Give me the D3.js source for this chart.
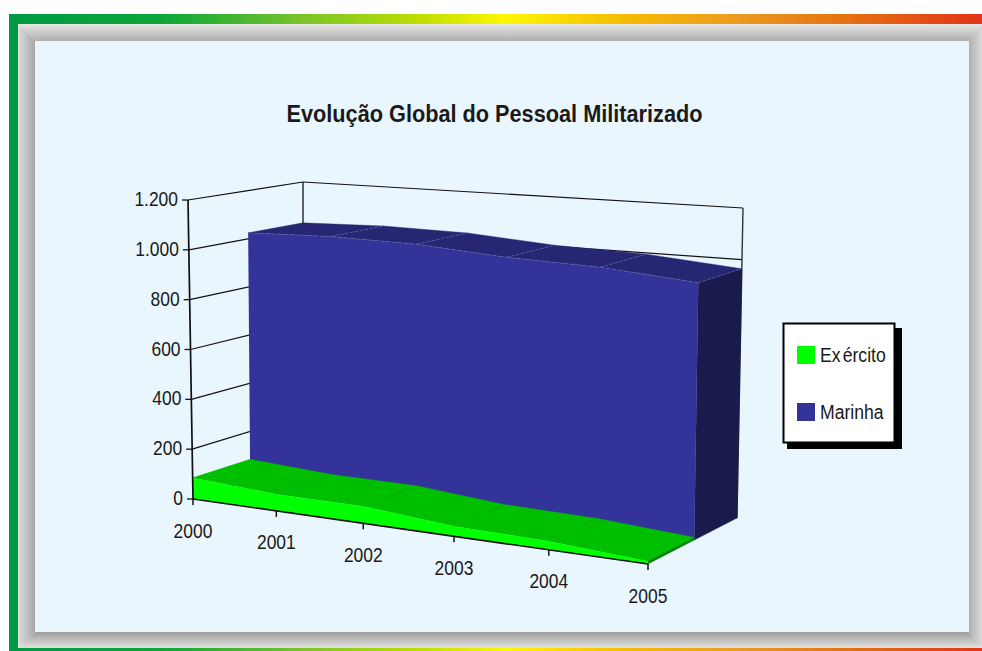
<!DOCTYPE html>
<html lang="pt">
<head>
<meta charset="utf-8">
<title>Evolução Global do Pessoal Militarizado</title>
<script src="https://cdn.jsdelivr.net/npm/d3@7"></script>
<style>
  html, body { margin: 0; padding: 0; background: #fff; }
  svg { display: block; }
  text { font-family: "Liberation Sans", Arial, sans-serif; fill: #1a1a1a; }
</style>
</head>
<body>
<svg id="chart" width="982" height="651"></svg>
<script>
// Chart data
const years = ["2000", "2001", "2002", "2003", "2004", "2005"];
const exercito = [85, 66, 66, 38, 32, 10];
const marinha = [1025, 1035, 1030, 1005, 995, 965];
const valueTicks = [0, 200, 400, 600, 800, 1000, 1200];
const valueTickLabels = ["0", "200", "400", "600", "800", "1.000", "1.200"];
const legendNames = ["Exército", "Marinha"];
const chartTitle = "Evolução Global do Pessoal Militarizado";

const svg = d3.select("#chart");
const defs = svg.append("defs");

// Outer frame: coloured band and bevelled grey mat
const band = defs.append("linearGradient").attr("id", "band")
  .attr("gradientUnits", "userSpaceOnUse")
  .attr("x1", 9).attr("x2", 982).attr("y1", 0).attr("y2", 0);
[[0, "#009a44"], [0.16, "#0ca63a"], [0.3, "#78c428"], [0.43, "#c4e000"], [0.51, "#fff700"],
 [0.62, "#f6c000"], [0.75, "#ec9a20"], [0.88, "#e46a10"], [1, "#e0341c"]]
  .forEach(([o, c]) => band.append("stop").attr("offset", o).attr("stop-color", c));

function bevel(id, x1, y1, x2, y2, from, to) {
  const g = defs.append("linearGradient").attr("id", id)
    .attr("gradientUnits", "userSpaceOnUse")
    .attr("x1", x1).attr("y1", y1).attr("x2", x2).attr("y2", y2);
  g.append("stop").attr("offset", 0).attr("stop-color", from);
  g.append("stop").attr("offset", 1).attr("stop-color", to);
}
bevel("bTop", 0, 24, 0, 41, "#e6e6e4", "#aeaeac");
bevel("bLeft", 18, 0, 35, 0, "#dedede", "#a6a6a6");
bevel("bBottom", 0, 632, 0, 648, "#9e9e9e", "#e2e2e0");
bevel("bRight", 969, 0, 982, 0, "#b0b0b0", "#dadada");

svg.append("rect").attr("x", 9).attr("y", 14).attr("width", 973).attr("height", 10).attr("fill", "url(#band)");
svg.append("rect").attr("x", 9).attr("y", 648).attr("width", 973).attr("height", 3).attr("fill", "url(#band)");
svg.append("rect").attr("x", 9).attr("y", 14).attr("width", 9).attr("height", 637).attr("fill", "#009a44");

const polyPath = pts => d3.line()(pts) + "Z";
[
  ["bTop", [[18, 24], [982, 24], [969, 41], [35, 41]]],
  ["bLeft", [[18, 24], [35, 41], [35, 632], [18, 648]]],
  ["bBottom", [[35, 632], [969, 632], [982, 648], [18, 648]]],
  ["bRight", [[969, 41], [982, 24], [982, 648], [969, 632]]]
].forEach(([fill, pts]) => svg.append("path").attr("d", polyPath(pts)).attr("fill", `url(#${fill})`));
svg.append("rect").attr("x", 35).attr("y", 41).attr("width", 934).attr("height", 591).attr("fill", "#eaf6fd");

// Projection of the 3D box: category along x, value up, depth into the page
const box = {
  frontBottomLeft: [193, 499], frontBottomRight: [648, 564],
  backBottomLeft: [303, 462], backBottomRight: [737, 518],
  frontTopLeft: [188, 200], frontTopRight: [652, 233],
  backTopLeft: [303, 182], backTopRight: [743, 208]
};
const xScale = d3.scalePoint().domain(years).range([0, 1]);
const yScale = d3.scaleLinear().domain([0, 1200]).range([0, 1]);
const depthScale = d3.scaleLinear().domain([0, 2]).range([0, 1]);
const midDepth = 1.04;
const foreshorten = u => u / (u + 1.115 * (1 - u));
const lerp = (a, b, t) => [a[0] + (b[0] - a[0]) * t, a[1] + (b[1] - a[1]) * t];

function project(year, value, depth) {
  const u = foreshorten(xScale(year)), v = yScale(value), w = depthScale(depth);
  const bottom = lerp(lerp(box.frontBottomLeft, box.frontBottomRight, u),
                      lerp(box.backBottomLeft, box.backBottomRight, u), w);
  const top = lerp(lerp(box.frontTopLeft, box.frontTopRight, u),
                   lerp(box.backTopLeft, box.backTopRight, u), w);
  return lerp(bottom, top, v);
}

const first = years[0], last = years[years.length - 1];
const plot = svg.append("g");
const strokeLine = (a, b, color, width) => plot.append("line")
  .attr("x1", a[0]).attr("y1", a[1]).attr("x2", b[0]).attr("y2", b[1])
  .attr("stroke", color).attr("stroke-width", width);

// Back and side walls with their gridlines
valueTicks.forEach(t => {
  strokeLine(project(first, t, 0), project(first, t, 2), "#111", 1.2);
  strokeLine(project(first, t, 2), project(last, t, 2), "#111", 1.2);
});
strokeLine(project(first, 0, 2), project(first, 1200, 2), "#111", 1.3);
strokeLine(project(last, 0, 2), project(last, 1200, 2), "#333", 1.4);

// One 3D area band: top surface, end cap, then front face
function drawBand(values, d0, d1, colors, seam, showFrontEdge) {
  years.slice(0, -1).forEach((yr, i) => {
    const next = years[i + 1];
    plot.append("path").attr("fill", colors.top).attr("stroke", colors.top).attr("stroke-width", 0.4)
      .attr("d", polyPath([project(yr, values[i], d0), project(next, values[i + 1], d0),
                           project(next, values[i + 1], d1), project(yr, values[i], d1)]));
  });
  plot.append("path").attr("fill", colors.side).attr("stroke", colors.side).attr("stroke-width", 0.4)
    .attr("d", polyPath([project(last, 0, d0), project(last, values[5], d0),
                         project(last, values[5], d1), project(last, 0, d1)]));
  const frontPts = years.map((yr, i) => project(yr, values[i], d0))
    .concat([project(last, 0, d0), project(first, 0, d0)]);
  plot.append("path").attr("d", polyPath(frontPts)).attr("fill", colors.front);
  // Dashed seams across the top surface at each category
  years.slice(1).forEach(yr => {
    const i = years.indexOf(yr);
    strokeLine(project(yr, values[i], d0), project(yr, values[i], d1), seam, 0.7)
      .attr("stroke-dasharray", "3 2");
  });
  if (showFrontEdge) {
    plot.append("path")
      .attr("d", d3.line()(years.map((yr, i) => project(yr, values[i], d0))))
      .attr("fill", "none").attr("stroke", seam).attr("stroke-width", 0.7).attr("stroke-dasharray", "4 2");
  }
}

drawBand(marinha, midDepth, 2, { top: "#262673", side: "#1a1a4d", front: "#333399" }, "#6666a8", true);
drawBand(exercito, 0, midDepth, { top: "#00bf00", side: "#008000", front: "#00ff00" }, "#00a010", false);

// Axes
function label(x, y, content, anchor, size, squeeze) {
  return svg.append("text")
    .attr("transform", `translate(${x},${y}) scale(${squeeze},1)`)
    .attr("text-anchor", anchor)
    .attr("font-size", size)
    .text(content);
}
strokeLine(project(first, 0, 0), project(last, 0, 0), "#111", 1.7);
strokeLine(project(first, 0, 0), project(first, 1200, 0), "#111", 1.7);
valueTicks.forEach((t, i) => {
  const p = project(first, t, 0);
  strokeLine([p[0] - 6, p[1]], p, "#111", 1.3);
  label(p[0] - 10, p[1] + 6, valueTickLabels[i], "end", 21, 0.83);
});
years.forEach(yr => {
  const p = project(yr, 0, 0);
  strokeLine(p, [p[0], p[1] + 6], "#111", 1.5);
  label(p[0], p[1] + 38.5, yr, "middle", 21, 0.83);
});

// Title
svg.append("text").attr("x", 494.5).attr("y", 121.5)
  .attr("text-anchor", "middle").attr("font-size", 23.5).attr("font-weight", "bold")
  .attr("textLength", 416).attr("lengthAdjust", "spacingAndGlyphs")
  .attr("fill", "#111").text(chartTitle);

// Legend box with hard shadow
svg.append("rect").attr("x", 787).attr("y", 328).attr("width", 115).attr("height", 121).attr("fill", "#000");
svg.append("rect").attr("x", 783.5).attr("y", 323.5).attr("width", 111).attr("height", 119)
  .attr("fill", "#fff").attr("stroke", "#000").attr("stroke-width", 2);
const swatches = ["#00ff00", "#333399"];
legendNames.forEach((name, i) => {
  const y = 346 + i * 57;
  svg.append("rect").attr("x", 797).attr("y", y).attr("width", 18).attr("height", 18).attr("fill", swatches[i]);
  label(820, y + 16, name, "start", 21, 0.84).attr("dx", i === 0 ? "0 0 2.5" : null);
});
</script>
</body>
</html>
